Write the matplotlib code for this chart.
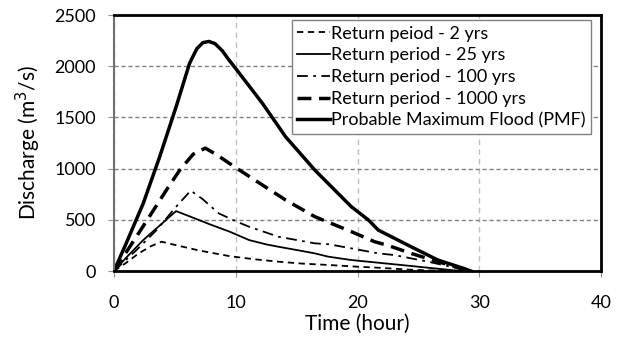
import matplotlib
matplotlib.use('Agg')
from matplotlib import pyplot as plt

plt.rcParams['font.family'] = ['Lato', 'DejaVu Sans']

# hydrographs (time in hours, discharge in m3/s)
t_2 = [0, 1, 2, 3, 3.9, 5, 7, 9.5, 11.5, 13.5, 15.5, 17.6, 20, 22, 24.4, 26, 27.5]
q_2 = [0, 80, 170, 240, 286, 255, 200, 145, 115, 91, 72, 59, 42, 30, 12, 5, 0]

t_25 = [0, 1, 2.4, 4, 5.1, 6.5, 8, 9.5, 11.1, 12.5, 13.5, 15, 16.5, 17.6, 19.5, 21.7, 24.4, 27.1, 28.5]
q_25 = [0, 130, 302, 470, 585, 520, 450, 384, 302, 260, 237, 205, 172, 140, 107, 81, 49, 16, 0]

t_100 = [0, 1.85, 3.5, 5.1, 6.3, 7.3, 8.6, 10.1, 11.1, 13.5, 16.5, 17.6, 19.5, 21.7, 23.0, 25.8, 27.9, 29.0]
q_100 = [0, 205, 400, 627, 785, 700, 563, 481, 432, 335, 270, 262, 221, 172, 156, 91, 36, 0]

t_1000 = [0, 1.3, 2.9, 4.3, 5.4, 6.5, 7.5, 8.5, 9.9, 12.2, 14.1, 16.5, 19.5, 21.4, 22.5, 24.4, 26.6, 28.5, 29.3]
q_1000 = [0, 237, 530, 790, 985, 1140, 1200, 1130, 1017, 839, 693, 530, 384, 286, 250, 172, 91, 26, 0]

t_pmf = [0, 1.0, 2.4, 3.75, 5.1, 6.2, 6.8, 7.3, 7.8, 8.3, 8.9, 9.45, 10.1, 12.2, 14.1, 16.5, 19.5, 20.9, 21.7, 24.4, 26.6, 28.7, 29.3]
q_pmf = [0, 270, 660, 1115, 1603, 2026, 2170, 2230, 2242, 2220, 2150, 2060, 1961, 1636, 1310, 985, 627, 498, 400, 237, 107, 26, 0]

labels = ['Return peiod - 2 yrs', 'Return period - 25 yrs', 'Return period - 100 yrs',
          'Return period - 1000 yrs', 'Probable Maximum Flood (PMF)']

fig = plt.figure(figsize=(6.26, 3.37), dpi=100)
ax = fig.add_axes([114 / 626, 1 - 271 / 337, (601 - 114) / 626, (271 - 15) / 337])

ax.plot(t_2, q_2, color='black', lw=1.3, dashes=(3.5, 2.5), label=labels[0])
ax.plot(t_25, q_25, color='black', lw=1.3, label=labels[1])
ax.plot(t_100, q_100, color='black', lw=1.3, dashes=(6, 3, 1.5, 3), label=labels[2])
ax.plot(t_1000, q_1000, color='black', lw=2.5, dashes=(4, 2.2), label=labels[3])
ax.plot(t_pmf, q_pmf, color='black', lw=2.5, label=labels[4])

ax.set_xlim(0, 40)
ax.set_ylim(0, 2500)
ax.set_xticks([0, 10, 20, 30, 40])
ax.set_yticks([0, 500, 1000, 1500, 2000, 2500])

ax.yaxis.grid(True, color='#808080', ls=(0, (3, 2)), lw=1)
ax.xaxis.grid(True, color='#c0c0c0', ls=(0, (4, 3)), lw=1)
ax.set_axisbelow(True)

for s in ['top', 'right', 'bottom']:
    ax.spines[s].set_color('black')
    ax.spines[s].set_linewidth(2)
ax.spines['left'].set_color('#707070')
ax.spines['left'].set_linewidth(1.5)
ax.tick_params(axis='both', direction='out', length=4, color='#909090', labelsize=13)
ax.tick_params(axis='x', pad=13)
ax.tick_params(axis='y', pad=9)

ax.set_xlabel('Time (hour)', fontsize=15, labelpad=2)
ax.set_ylabel('Discharge (m$^3$/s)', fontsize=15, labelpad=8)

leg = ax.legend(loc='upper right', bbox_to_anchor=(0.98, 0.98), fontsize=13, frameon=True, fancybox=False,
                handlelength=1.8, handletextpad=0.1, labelspacing=0.32, borderpad=0.3, borderaxespad=0)
leg.get_frame().set_edgecolor('#808080')
leg.get_frame().set_linewidth(1)
leg.get_frame().set_alpha(1)

fig.savefig('out.png', dpi=100)
